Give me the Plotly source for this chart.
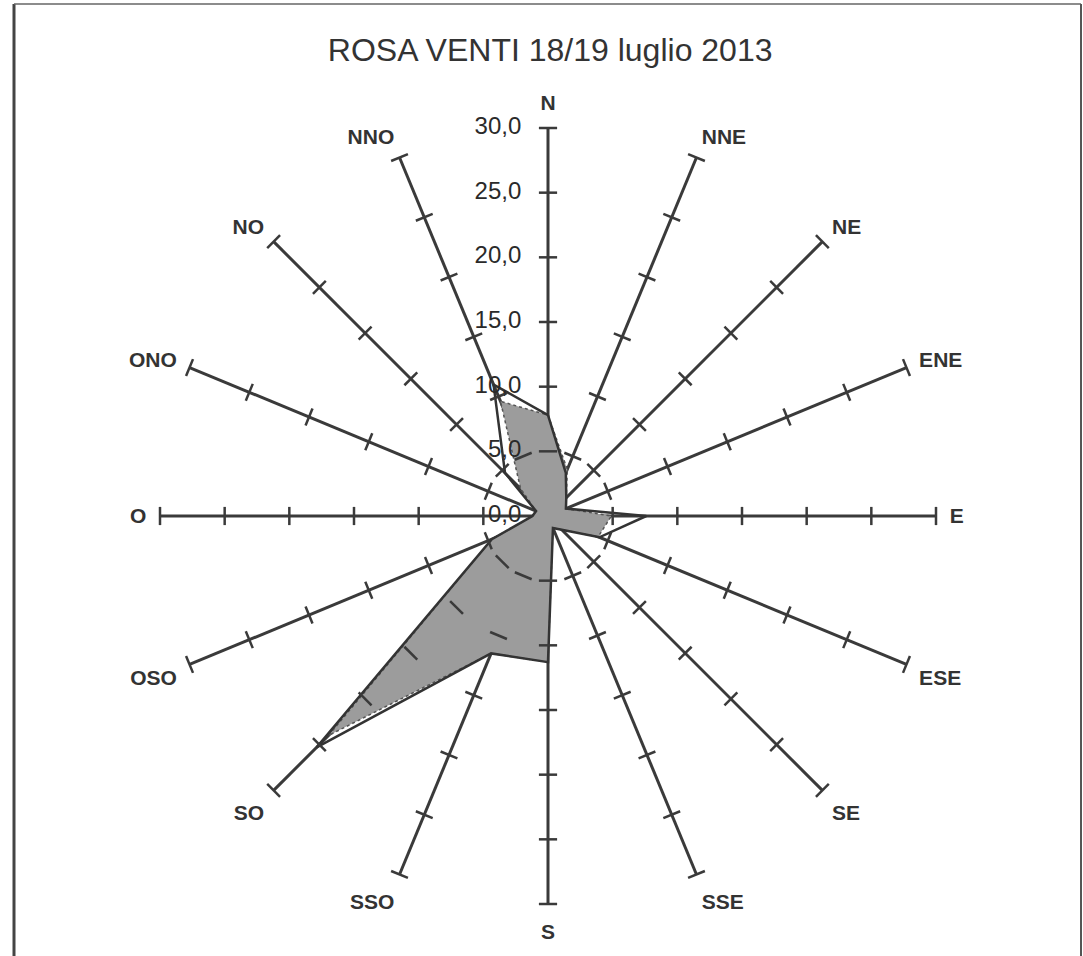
import plotly.graph_objects as go

directions = ["N", "NNE", "NE", "ENE", "E", "ESE", "SE", "SSE",
              "S", "SSO", "SO", "OSO", "O", "ONO", "NO", "NNO"]
# filled grey series
fill_values = [7.8, 3.9, 2.0, 1.5, 4.9, 4.2, 1.5, 1.0,
               11.3, 11.5, 24.0, 4.7, 1.2, 1.0, 3.0, 9.6]
# dark line series
line_values = [7.8, 3.6, 2.0, 1.5, 7.6, 4.3, 1.5, 1.0,
               11.3, 11.5, 25.3, 4.7, 1.2, 1.0, 4.7, 11.0]
radial_ticks = [0, 5, 10, 15, 20, 25, 30]
title_text = "ROSA VENTI 18/19 luglio 2013"

W, H = 1083, 956
cx, cy, R = 548, 516, 388

fig = go.Figure()

fig.add_trace(go.Scatterpolar(
    r=fill_values + fill_values[:1], theta=directions + directions[:1],
    mode="lines", fill="toself", fillcolor="#9c9c9c",
    line=dict(color="#555555", width=1.5, dash="dot"),
    hoverinfo="skip", showlegend=False))

fig.add_trace(go.Scatterpolar(
    r=line_values + line_values[:1], theta=directions + directions[:1],
    mode="lines", line=dict(color="#333333", width=2.5),
    hoverinfo="skip", showlegend=False))

# tick marks across every spoke
tr, tt, ta = [], [], []
for i, d in enumerate(directions):
    for v in radial_ticks[1:]:
        tr.append(v)
        tt.append(d)
        ta.append(i * 22.5)
fig.add_trace(go.Scatterpolar(
    r=tr, theta=tt, mode="markers",
    marker=dict(symbol="line-ew", size=13, angle=ta,
                line=dict(color="#3a3a3a", width=2.5)),
    hoverinfo="skip", showlegend=False))

# radial value labels along the N spoke
fig.add_trace(go.Scatterpolar(
    r=radial_ticks, theta=["N"] * len(radial_ticks), mode="text",
    text=[f"{v:.1f}".replace(".", ",") + "\u2007\u2007" for v in radial_ticks],
    textposition="middle left",
    textfont=dict(family="Arial, Liberation Sans", size=24, color="#2a2a2a"),
    hoverinfo="skip", showlegend=False))

fig.update_layout(
    width=W, height=H,
    margin=dict(l=0, r=0, t=0, b=0),
    paper_bgcolor="white",
    showlegend=False,
    title=dict(text=title_text, x=0.508, y=1 - 50 / H, xanchor="center", yanchor="middle",
               font=dict(family="Arial, Liberation Sans", size=32, color="#333333")),
    polar=dict(
        domain=dict(x=[(cx - R) / W, (cx + R) / W], y=[1 - (cy + R) / H, 1 - (cy - R) / H]),
        bgcolor="white",
        angularaxis=dict(
            direction="clockwise", rotation=90, type="category",
            categoryorder="array", categoryarray=directions,
            showline=False, showgrid=True, gridcolor="#3a3a3a", gridwidth=3,
            ticks="outside", ticklen=9, tickcolor="rgba(0,0,0,0)",
            tickfont=dict(family="Arial, Liberation Sans", size=21, color="#333333",
                          weight="bold")),
        radialaxis=dict(
            range=[0, 30], tickvals=radial_ticks, showticklabels=False,
            angle=90, showgrid=False, showline=False, ticks=""),
    ),
    shapes=[
        dict(type="line", xref="paper", yref="paper", x0=14 / W, x1=14 / W, y0=0, y1=1 - 4 / H,
             line=dict(color="#444444", width=3)),
        dict(type="line", xref="paper", yref="paper", x0=14 / W, x1=1081 / W, y0=1 - 4 / H, y1=1 - 4 / H,
             line=dict(color="#666666", width=1.5)),
        dict(type="line", xref="paper", yref="paper", x0=1081 / W, x1=1081 / W, y0=0, y1=1 - 4 / H,
             line=dict(color="#555555", width=2)),
    ],
)

fig.write_html("out.html", config={"displayModeBar": False},
               post_script="document.body.style.margin='0';")
